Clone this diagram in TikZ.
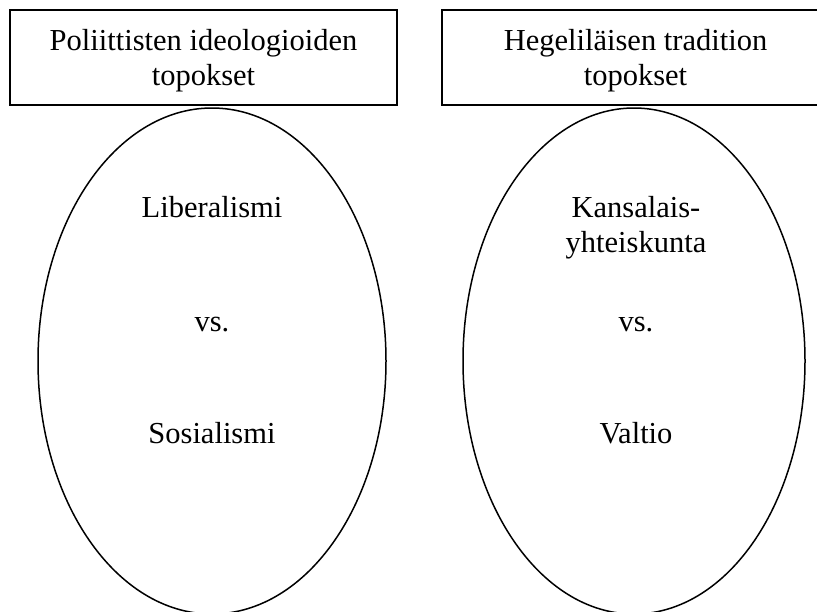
\documentclass[tikz,border=0pt]{standalone}
\usepackage{fontspec}
\setmainfont{Liberation Serif}
\begin{document}
\begin{tikzpicture}[x=1pt,y=-1pt,
  topbox/.style={draw, line width=1.6pt, minimum width=387pt, minimum height=95pt, inner sep=0pt},
  oval/.style={draw, line width=1.5pt},
  txt/.style={font=\fontsize{30.5}{35}\selectfont, align=center, inner sep=0pt, anchor=base}]
\useasboundingbox (0,0) rectangle (817,611);
\clip (0,0) rectangle (817,611);
\node[topbox] (lbox) at (203.5,57.5) {};
\node[topbox] (rbox) at (635.5,57.5) {};
\node[txt] (ltitle) at (203.5,85) {Poliittisten ideologioiden\\topokset};
\node[txt] (rtitle) at (635.5,85) {Hegeliläisen tradition\\topokset};
\draw[oval] (212,361) ellipse [x radius=174, y radius=253];
\draw[oval] (634,361) ellipse [x radius=171, y radius=253];
\node[txt] (lib) at (212,217) {Liberalismi};
\node[txt] (lvs) at (212,331) {vs.};
\node[txt] (sos) at (212,443) {Sosialismi};
\node[txt] (kan) at (636,252) {Kansalais-\\yhteiskunta};
\node[txt] (rvs) at (636,331) {vs.};
\node[txt] (val) at (636,443) {Valtio};
\end{tikzpicture}
\end{document}
